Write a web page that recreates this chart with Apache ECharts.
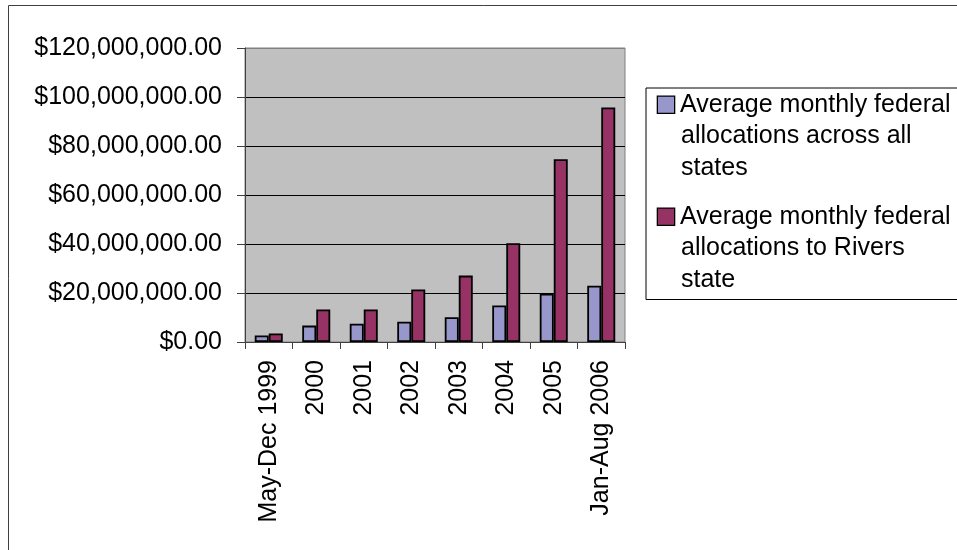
<!DOCTYPE html>
<html>
<head>
<meta charset="utf-8">
<script src="https://cdn.jsdelivr.net/npm/echarts@6/dist/echarts.min.js"></script>
<style>
  html, body { margin: 0; padding: 0; background: #fff; }
  #chart { width: 957px; height: 550px; }
</style>
</head>
<body>
<div id="chart"></div>
<script>
const categories = ["May-Dec 1999", "2000", "2001", "2002", "2003", "2004", "2005", "Jan-Aug 2006"];
const allStates = [2700000, 6700000, 7500000, 8300000, 10100000, 14900000, 19700000, 23000000];
const rivers = [3500000, 13300000, 13300000, 21400000, 27100000, 40300000, 74600000, 95700000];
const seriesNames = [
  "Average monthly federal allocations across all states",
  "Average monthly federal allocations to Rivers state"
];
const legendLines = [
  ["Average monthly federal", "allocations across all", "states"],
  ["Average monthly federal", "allocations to Rivers", "state"]
];
const seriesColors = ["#9797CB", "#963264"];
const yMin = 0, yMax = 120000000, yStep = 20000000;

const FONT = "'Liberation Sans', Arial, sans-serif";
const chart = echarts.init(document.getElementById('chart'), null, { renderer: 'canvas' });

function money(v) {
  return '$' + v.toLocaleString('en-US', { minimumFractionDigits: 2, maximumFractionDigits: 2 });
}

const rich = {
  t: { fontSize: 25, lineHeight: 31.5, color: '#000', fontFamily: FONT },
  gap: { width: 6, fontSize: 25, lineHeight: 31.5 },
  ind: { width: 23, fontSize: 25, lineHeight: 31.5 }
};
seriesColors.forEach((c, i) => {
  rich['box' + i] = {
    width: 16, height: 16, backgroundColor: c, borderColor: '#000', borderWidth: 1.3,
    fontSize: 25, lineHeight: 31.5, verticalAlign: 'middle'
  };
});

// top gridline drawn in the plot-border grey, the rest black
const gridColors = [];
for (let v = yMin; v <= yMax; v += yStep) gridColors.push(v === yMax ? '#808080' : '#000');

const option = {
  backgroundColor: '#fff',
  animation: false,
  textStyle: { fontFamily: FONT },
  graphic: [{
    type: 'rect', z: -10, silent: true,
    shape: { x: 8.5, y: 5.5, width: 1200, height: 1000 },
    style: { fill: 'none', stroke: '#404040', lineWidth: 1 }
  }],
  grid: {
    left: 245, right: 332, top: 48, bottom: 208,
    show: true, backgroundColor: '#C0C0C0', borderColor: '#808080', borderWidth: 1,
    containLabel: false
  },
  legend: {
    orient: 'vertical', left: 646, top: 88,
    padding: [1, 40, 4, 6],
    itemGap: 17.5, itemWidth: 0, itemHeight: 0,
    borderColor: '#000', borderWidth: 1, backgroundColor: '#fff',
    selectedMode: false,
    data: seriesNames,
    textStyle: { fontSize: 25, lineHeight: 31.5, color: '#000', fontFamily: FONT, rich: rich },
    formatter: function (name) {
      const i = seriesNames.indexOf(name);
      const lines = legendLines[i];
      let s = '{box' + i + '| }{gap| }{t|' + lines[0] + '}';
      for (let k = 1; k < lines.length; k++) s += '\n{ind| }{t|' + lines[k] + '}';
      return s;
    }
  },
  xAxis: {
    type: 'category',
    data: categories,
    axisLine: { show: true, lineStyle: { color: '#404040', width: 1 } },
    axisTick: { show: true, length: 7, lineStyle: { color: '#404040' } },
    axisLabel: {
      rotate: 90, interval: 0, margin: 18,
      fontSize: 25, color: '#000', fontFamily: FONT
    },
    splitLine: { show: false }
  },
  yAxis: {
    type: 'value', min: yMin, max: yMax, interval: yStep,
    axisLine: { show: true, lineStyle: { color: '#404040', width: 1 } },
    axisTick: { show: true, length: 8, lineStyle: { color: '#404040' } },
    axisLabel: {
      margin: 23, fontSize: 25, color: '#000', fontFamily: FONT,
      formatter: money
    },
    splitLine: { show: true, lineStyle: { color: gridColors, width: 1 } }
  },
  series: [
    {
      name: seriesNames[0], type: 'bar', data: allStates,
      barWidth: 14, barGap: '0%',
      itemStyle: { color: seriesColors[0], borderColor: '#000', borderWidth: 1.8 }
    },
    {
      name: seriesNames[1], type: 'bar', data: rivers,
      barWidth: 14, barGap: '0%',
      itemStyle: { color: seriesColors[1], borderColor: '#000', borderWidth: 1.8 }
    }
  ]
};
chart.setOption(option);
</script>
</body>
</html>
